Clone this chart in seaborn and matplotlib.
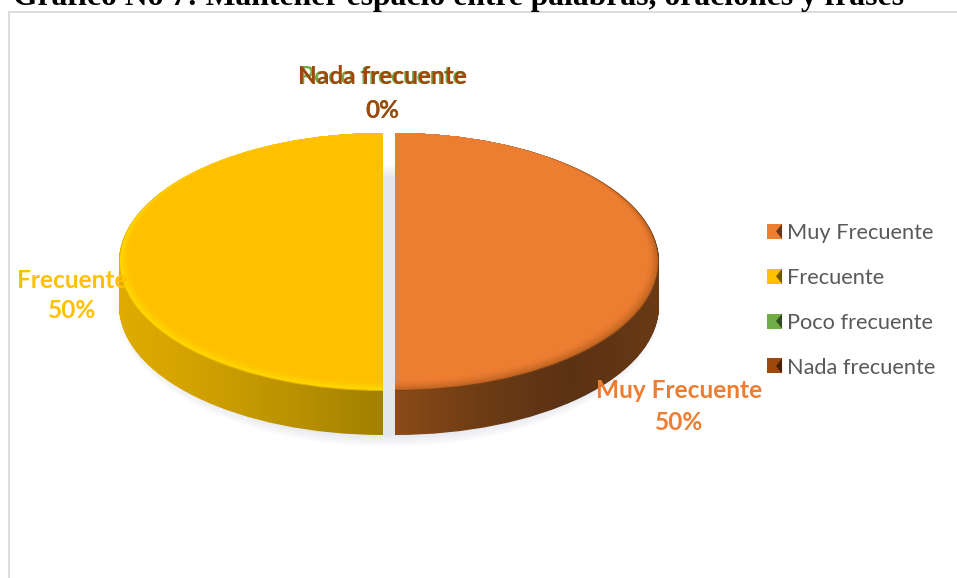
import numpy as np
import matplotlib
matplotlib.use("Agg")
import matplotlib.pyplot as plt
import seaborn as sns
from matplotlib.colors import LinearSegmentedColormap, to_rgb
from matplotlib.patches import Ellipse, PathPatch, Polygon, Rectangle
from matplotlib.path import Path
from matplotlib.transforms import Affine2D

categories = ["Muy Frecuente", "Frecuente", "Poco frecuente", "Nada frecuente"]
percentages = [50, 50, 0, 0]
slice_colors = ["#ED7D31", "#FFC000", "#70AD47", "#9E480E"]
title_text = "Gráfico No 7: Mantener espacio entre palabras, oraciones y frases"

W, H = 957, 578
RX, RY = 264, 129      # pixels per data unit
CX, CY = 389, 262      # pie centre in pixels from top left
THICK = 44 / RY
GAP = 6 / RX
BEVEL = 0.04

sns.set_theme(style="white")
plt.rcParams["font.family"] = ["Lato", "DejaVu Sans"]
plt.rcParams["patch.linewidth"] = 0
palette = sns.color_palette(slice_colors)

fig = plt.figure(figsize=(W / 100, H / 100), dpi=100)
ax = fig.add_axes([0, 0, 1, 1])
explode = [GAP] * len(percentages)
flat = dict(linewidth=0, edgecolor="none")


def px(x, y):
    return x / W, 1 - y / H


def mix(color, other, t):
    return tuple((1 - t) * np.array(to_rgb(color)) + t * np.array(to_rgb(other)))


# soft shadow under the pie, outer rings fade to white
for k in np.linspace(1, 0, 14):
    ax.add_patch(Ellipse((0.0, -THICK), 2.0 + 0.07 * k, 2.0 + 0.2 * k,
                         facecolor=mix("#E4E6EE", "white", k), edgecolor="none", zorder=0.5))

# top face, used also for the wedge outlines of the side
wedges, _ = ax.pie(percentages, colors=palette, startangle=90, counterclock=False,
                   explode=explode, radius=1.0, wedgeprops=flat)

# side of the disc: gradient clipped to the swept wedge
side_ramps = [["#8E4C18", "#6E3C14", "#5A3214", "#6A3A14"],
              ["#E0AC00", "#CFA000", "#B89000", "#A08000"]]
side_spans = [(0, 1.03), (-1.03, 0)]
for wedge, ramp, span in zip(wedges[:2], side_ramps, side_spans):
    base = wedge.get_patch_transform().transform_path(wedge.get_path())
    swept = [base.transformed(Affine2D().translate(0, -d)) for d in np.linspace(0, THICK, 45)]
    clip = Path.make_compound_path(*swept)
    cmap = LinearSegmentedColormap.from_list("side", ramp)
    im = ax.imshow(np.linspace(0, 1, 256)[None, :], cmap=cmap, aspect="auto",
                   extent=(span[0], span[1], -1.5, 1.2), zorder=1)
    im.set_clip_path(PathPatch(clip, transform=ax.transData))

# bevel: crescent between face and side
for w, tone in zip(wedges, ["#7A4216", "#E8B000", slice_colors[2], slice_colors[3]]):
    w.set_zorder(2)
    w.set_facecolor(tone)
bevel_tint = ["#B8601F", "#FFDD00"]
for k in np.linspace(0.004, BEVEL, 12):
    t = (1 - k / BEVEL) ** 1.5
    cols = [mix(slice_colors[0], bevel_tint[0], t),
            mix(slice_colors[1], bevel_tint[1], t), slice_colors[2], slice_colors[3]]
    inner, _ = ax.pie(percentages, colors=cols, startangle=90, counterclock=False,
                      explode=explode, radius=1 - k, center=(0, k), wedgeprops=flat)
    for w in inner:
        w.set_zorder(2 + k)

ax.set_aspect("auto")
ax.set_xlim(-CX / RX, (W - CX) / RX)
ax.set_ylim(-(H - CY) / RY, CY / RY)
ax.axis("off")

# chart frame, cut by the page on the right and at the bottom
fig.add_artist(Rectangle(px(9, 700), (W + 50) / W, 688 / H, transform=fig.transFigure,
                         facecolor="none", edgecolor="#D9D9D9", linewidth=1.3, zorder=0))

# title is cut by the top of the page
fig.text(*px(13, 4.5), title_text, family="Liberation Serif", weight="bold",
         fontsize=22.8, color="black", ha="left", va="baseline")

# data labels
label_font = dict(fontsize=17.6, weight="bold", ha="center", va="center")
label_places = [(679, 391, 423), (72, 280, 311), (382, 77, 110), (382, 77, 110)]
for name, pct, color, (x, y1, y2) in zip(categories, percentages, slice_colors, label_places):
    fig.text(*px(x, y1), name, color=color, **label_font)
    fig.text(*px(x, y2), f"{pct}%", color=color, **label_font)

# legend from the wedges themselves
leg = ax.legend(wedges, categories, loc="upper left", bbox_to_anchor=px(767, 223),
                bbox_transform=fig.transFigure, frameon=False, fontsize=15.7,
                labelcolor="#595959", handlelength=0.69, handleheight=0.69,
                handletextpad=0.23, labelspacing=1.14, borderpad=0, borderaxespad=0)
fig.canvas.draw()
for patch, color in zip(leg.get_patches(), slice_colors):
    patch.set_facecolor(color)
    box = patch.get_window_extent()
    mid = (box.y0 + box.y1) / 2
    pts = [(box.x1, box.y0), (box.x1, box.y1), (box.x1 - box.width * 0.4, mid)]
    fig.add_artist(Polygon(pts, closed=True, transform=None, facecolor=mix(color, "black", 0.55),
                           edgecolor="none", zorder=5))

fig.savefig("out.png", dpi=100)
